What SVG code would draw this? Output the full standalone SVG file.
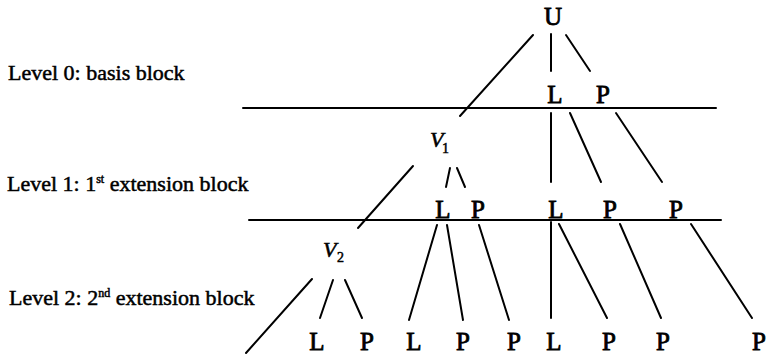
<svg xmlns="http://www.w3.org/2000/svg" width="766" height="355" viewBox="0 0 766 355">
<style>
text{font-family:'Liberation Serif','DejaVu Serif','Times New Roman',serif}
.lbl{font-size:22px;fill:#000;stroke:#000;stroke-width:0.5}
.sup{font-size:12px}
.n{font-size:25px;fill:#000;text-anchor:middle;stroke:#000;stroke-width:0.8}
.v{font-size:22px;font-style:italic;fill:#000;stroke:#000;stroke-width:0.6}
.vs{font-size:14px;fill:#000;stroke:#000;stroke-width:0.5}
.c line{stroke:#000;stroke-width:2;stroke-linecap:round}
</style>
<rect width="766" height="355" fill="#fff"/>
<g id="labels">
<text class="lbl" x="8" y="80">Level 0: basis block</text>
<text class="lbl" x="7" y="191">Level 1: 1<tspan class="sup" dy="-8">st</tspan><tspan dy="8"> extension block</tspan></text>
<text class="lbl" x="9" y="305">Level 2: 2<tspan class="sup" dy="-8">nd</tspan><tspan dy="8"> extension block</tspan></text>
</g>
<g id="levels" class="c">
<line x1="243" y1="108" x2="716" y2="108"/>
<line x1="249" y1="220" x2="721" y2="220"/>
</g>
<g id="connectors" class="c">
<line x1="533" y1="35" x2="460" y2="116"/>
<line x1="551" y1="34" x2="551" y2="71"/>
<line x1="566" y1="35" x2="590" y2="71"/>
<line x1="551" y1="113" x2="551" y2="182"/>
<line x1="570" y1="113" x2="601" y2="182"/>
<line x1="616" y1="113" x2="662" y2="182"/>
<line x1="413" y1="166" x2="358" y2="228"/>
<line x1="450" y1="168" x2="446" y2="187"/>
<line x1="457" y1="168" x2="465" y2="187"/>
<line x1="312" y1="279" x2="246" y2="353"/>
<line x1="333" y1="280" x2="320" y2="318"/>
<line x1="345" y1="280" x2="362" y2="318"/>
<line x1="437" y1="225" x2="409" y2="320"/>
<line x1="447" y1="225" x2="463" y2="320"/>
<line x1="479" y1="225" x2="509" y2="320"/>
<line x1="551" y1="222" x2="551" y2="318"/>
<line x1="559" y1="224" x2="607" y2="318"/>
<line x1="620" y1="224" x2="661" y2="318"/>
<line x1="691" y1="224" x2="752" y2="318"/>
</g>
<g id="U"><text class="n" x="553" y="25">U</text></g>
<g id="L0"><text class="n" x="555" y="103">L</text></g>
<g id="P0"><text class="n" x="603" y="103">P</text></g>
<g id="V1"><text class="v" x="430" y="147">V</text><text class="vs" x="442" y="153">1</text></g>
<g id="L1a"><text class="n" x="443" y="218">L</text></g>
<g id="P1a"><text class="n" x="478" y="218">P</text></g>
<g id="L1b"><text class="n" x="556" y="218">L</text></g>
<g id="P1b"><text class="n" x="610" y="218">P</text></g>
<g id="P1c"><text class="n" x="676" y="218">P</text></g>
<g id="V2"><text class="v" x="323" y="257">V</text><text class="vs" x="337" y="262">2</text></g>
<g id="L2a"><text class="n" x="317" y="350">L</text></g>
<g id="P2a"><text class="n" x="367" y="350">P</text></g>
<g id="L2b"><text class="n" x="414" y="350">L</text></g>
<g id="P2b"><text class="n" x="463" y="350">P</text></g>
<g id="P2c"><text class="n" x="514" y="350">P</text></g>
<g id="L2c"><text class="n" x="554" y="350">L</text></g>
<g id="P2d"><text class="n" x="609" y="350">P</text></g>
<g id="P2e"><text class="n" x="663" y="350">P</text></g>
<g id="P2f"><text class="n" x="759" y="350">P</text></g>
</svg>
